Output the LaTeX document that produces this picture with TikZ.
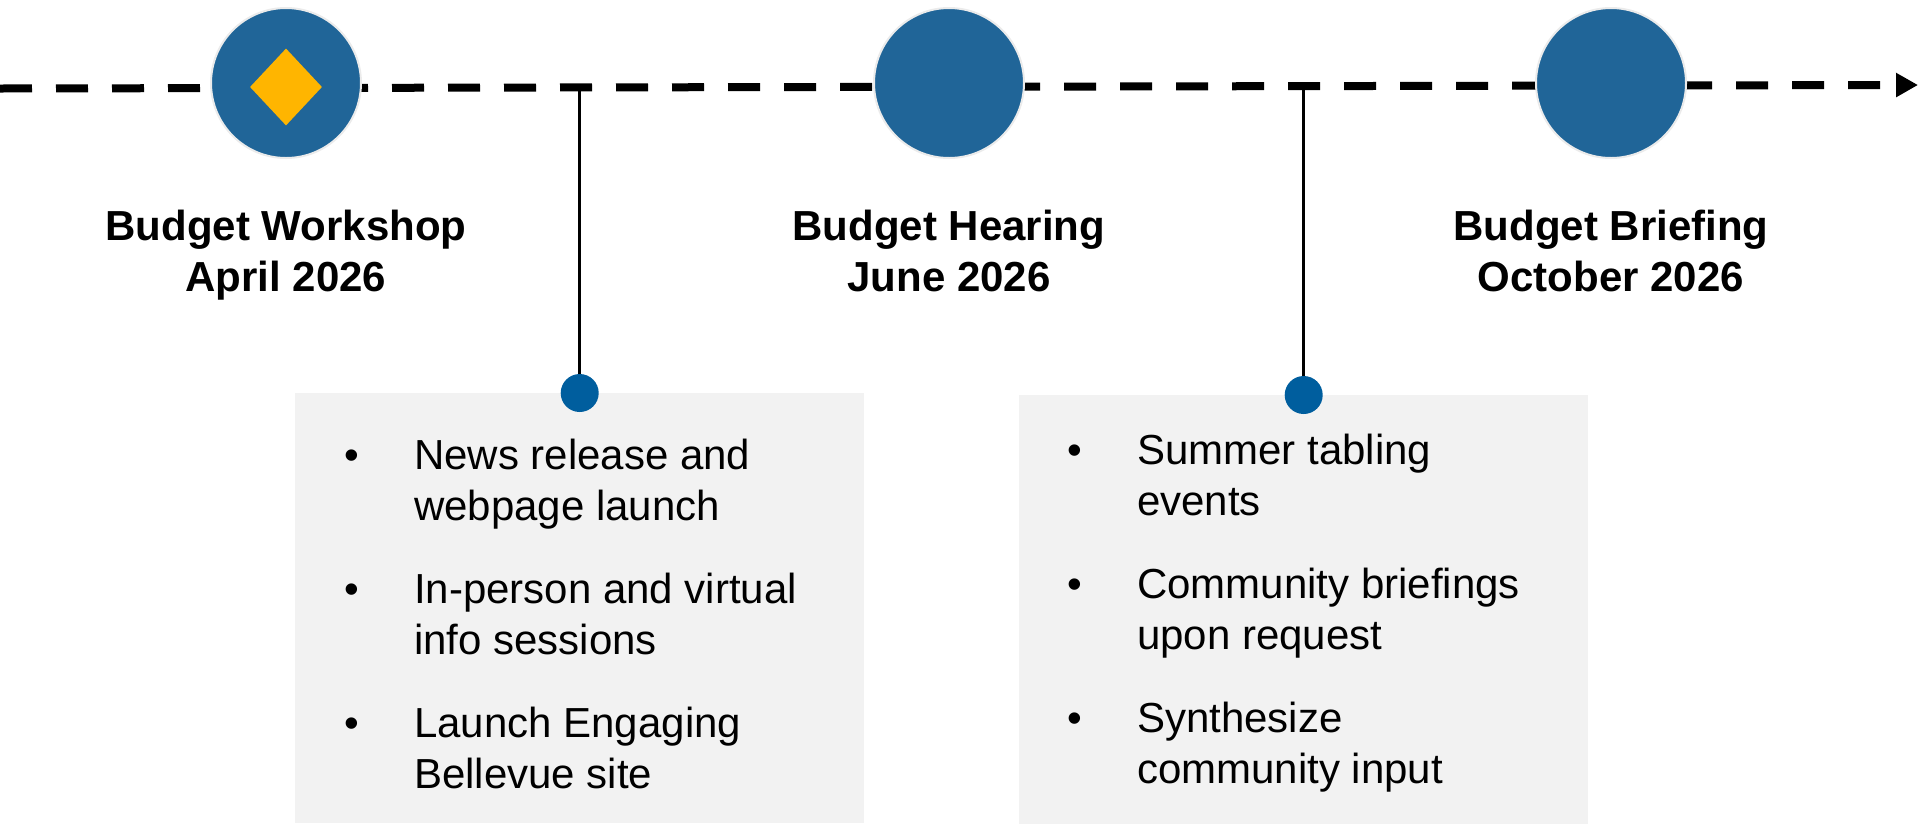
\documentclass[tikz,border=0pt]{standalone}
\usepackage{fontspec}
\setmainfont{Liberation Sans}
\usetikzlibrary{arrows.meta, positioning, shapes.geometric}

\definecolor{milestoneblue}{RGB}{32,101,152}
\definecolor{knobblue}{RGB}{0,94,158}
\definecolor{markgold}{RGB}{255,181,0}
\definecolor{panelgray}{RGB}{242,242,242}

\newcommand{\bigfont}{\fontsize{42}{51}\selectfont}

\begin{document}
\begin{tikzpicture}[
    x=1pt, y=-1pt, >=Stealth,
    timeline/.style={line width=8pt, dash pattern=on 32pt off 24pt,
                     -{Triangle[length=22pt, width=23pt]}},
    milestone/.style={circle, draw=white!92!black, line width=2pt,
                      fill=milestoneblue, minimum size=150pt, inner sep=0pt},
    caption/.style={align=center, font=\bigfont\bfseries, inner sep=0pt},
    panel/.style={anchor=north west, fill=panelgray, minimum width=569pt,
                  minimum height=430pt, inner sep=0pt},
    knob/.style={circle, fill=knobblue, minimum size=38pt, inner sep=0pt},
    bullets/.style={font=\bigfont, inner sep=0pt},
    stem/.style={line width=3pt}
  ]
  \useasboundingbox (0,0) rectangle (1920,823);

  % timeline
  \coordinate (tstart) at (0,88.5);
  \coordinate (tend) at (1918,85);
  \draw[timeline] (tstart) -- (tend);

  % milestones
  \node[milestone] (workshop) at (286,83) {};
  \node[diamond, fill=markgold, minimum width=72pt, minimum height=77pt,
        inner sep=0pt] (wsmark) at ([yshift=-4pt]workshop.center) {};
  \node[milestone] (hearing) at (949,83) {};
  \node[milestone] (briefing) at (1611,83) {};

  \node[caption, below=51pt of workshop] (workshopcap)
    {Budget Workshop\\April 2026};
  \node[caption, below=51pt of hearing] (hearingcap)
    {Budget Hearing\\June 2026};
  \node[caption, below=51pt of briefing] (briefingcap)
    {Budget Briefing\\October 2026};

  % outreach panels
  \node[panel] (panel1) at (295,393) {};
  \node[panel] (panel2) at (1019,395) {};
  \node[knob] (dot1) at (panel1.north) {};
  \node[knob] (dot2) at (panel2.north) {};
  \draw[stem] (dot1) -- (dot1 |- tstart);
  \draw[stem] (dot2) -- (dot2 |- tstart);

  \node[bullets, below right=41pt and 49pt of panel1.north west] (list1) {%
    \begin{tabular}{@{}p{70pt}@{}l@{}}
      \textbullet & News release and\\
                  & webpage launch\\[32pt]
      \textbullet & In-person and virtual\\
                  & info sessions\\[32pt]
      \textbullet & Launch Engaging\\
                  & Bellevue site
    \end{tabular}};
  \node[bullets, below right=34pt and 48pt of panel2.north west] (list2) {%
    \begin{tabular}{@{}p{70pt}@{}l@{}}
      \textbullet & Summer tabling\\
                  & events\\[32pt]
      \textbullet & Community briefings\\
                  & upon request\\[32pt]
      \textbullet & Synthesize\\
                  & community input
    \end{tabular}};
\end{tikzpicture}
\end{document}
